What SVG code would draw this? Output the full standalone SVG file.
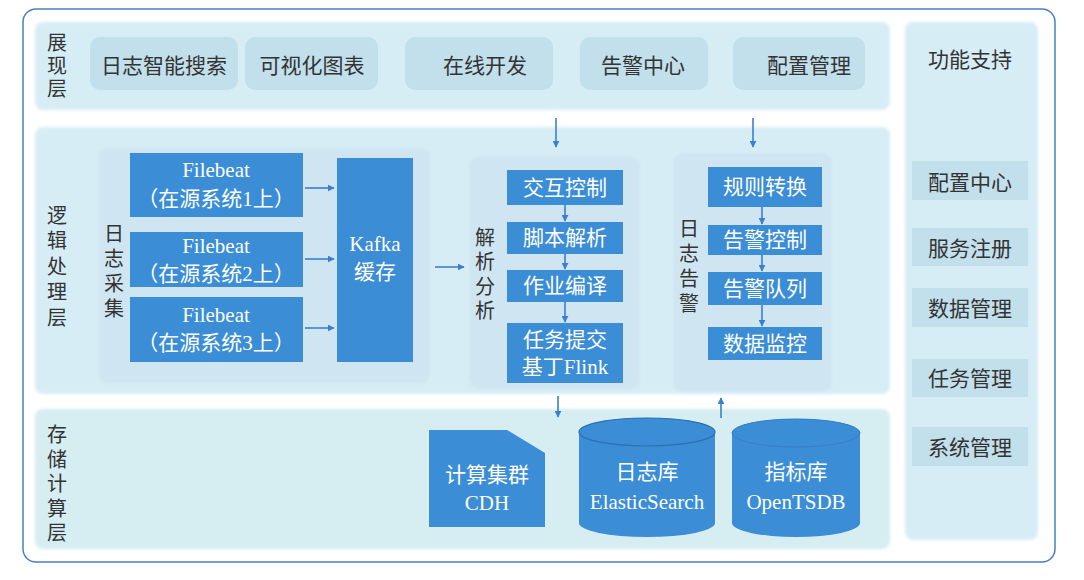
<svg xmlns="http://www.w3.org/2000/svg" width="1084" height="580" viewBox="0 0 1084 580">
<defs>
<style>
.band{fill:#d7edf5;}
.sub{fill:#cfe6f2;}
.pbox{fill:#c2dfec;}
.bbox{fill:#3b8dd6;}
.lbl{font-family:"Noto Sans CJK SC","Liberation Sans",sans-serif;font-size:21px;fill:#333;text-anchor:middle;dominant-baseline:central;}
.vl{font-family:"Noto Sans CJK SC","Liberation Sans",sans-serif;font-size:20px;fill:#333;text-anchor:middle;writing-mode:vertical-rl;text-orientation:upright;}
.wt{font-family:"Liberation Serif","Noto Sans CJK SC",serif;font-size:21px;fill:#ffffff;text-anchor:middle;dominant-baseline:central;}
.conn{stroke:#3b7fd0;stroke-width:1.6;fill:none;marker-end:url(#ah);}
</style>
<marker id="ah" viewBox="0 0 10 10" refX="9" refY="5" markerWidth="7" markerHeight="7" markerUnits="userSpaceOnUse" orient="auto">
<path d="M0,0 L10,5 L0,10 z" fill="#3b7fd0"/>
</marker>
<filter id="soft" x="-5%" y="-5%" width="110%" height="110%"><feGaussianBlur stdDeviation="1.5"/></filter>
</defs>
<rect width="1084" height="580" fill="#ffffff"/>
<rect x="23" y="9" width="1032" height="553" rx="13" fill="#ffffff" stroke="#4a80c2" stroke-width="1.5"/>

<g id="layer-present">
<rect class="band" x="35" y="22" width="855" height="88" rx="8" filter="url(#soft)"/>
<text class="vl" x="57" y="67" letter-spacing="3">展现层</text>
</g>
<g id="n-search"><rect class="pbox" x="90" y="37" width="148" height="53" rx="10"/><text class="lbl" x="164" y="64">日志智能搜索</text></g>
<g id="n-visual"><rect class="pbox" x="245" y="37" width="133" height="53" rx="10"/><text class="lbl" x="312" y="64">可视化图表</text></g>
<g id="n-online"><rect class="pbox" x="405" y="37" width="148" height="53" rx="10"/><text class="lbl" x="485" y="64">在线开发</text></g>
<g id="n-alarm"><rect class="pbox" x="580" y="37" width="128" height="53" rx="10"/><text class="lbl" x="643" y="64">告警中心</text></g>
<g id="n-config"><rect class="pbox" x="733" y="37" width="132" height="53" rx="10"/><text class="lbl" x="809" y="64">配置管理</text></g>

<g id="layer-logic">
<rect class="band" x="35" y="127" width="855" height="267" rx="8" filter="url(#soft)"/>
<text class="vl" x="57" y="269" letter-spacing="5.5">逻辑处理层</text>
</g>
<g id="grp-collect">
<rect class="sub" x="99" y="148" width="331" height="235" rx="8" filter="url(#soft)"/>
<text class="vl" x="114" y="273" letter-spacing="5">日志采集</text>
</g>
<g id="n-fb1"><rect class="bbox" x="130" y="153" width="173" height="64"/><text class="wt" x="216" y="170">Filebeat</text><text class="wt" x="216" y="199" font-size="20">（在源系统1上）</text></g>
<g id="n-fb2"><rect class="bbox" x="130" y="232" width="173" height="55"/><text class="wt" x="216" y="246">Filebeat</text><text class="wt" x="216" y="274" font-size="20">（在源系统2上）</text></g>
<g id="n-fb3"><rect class="bbox" x="130" y="297" width="173" height="65"/><text class="wt" x="216" y="315">Filebeat</text><text class="wt" x="216" y="343" font-size="20">（在源系统3上）</text></g>
<g id="n-kafka"><rect class="bbox" x="337" y="158" width="76" height="204"/><text class="wt" x="375" y="244">Kafka</text><text class="wt" x="375" y="272">缓存</text></g>

<g id="grp-parse">
<rect class="sub" x="469" y="156" width="171" height="233" rx="10" filter="url(#soft)"/>
<text class="vl" x="485" y="276" letter-spacing="4.5">解析分析</text>
</g>
<g id="n-interact"><rect class="bbox" x="507" y="170" width="116" height="35"/><text class="wt" x="565" y="188">交互控制</text></g>
<g id="n-script"><rect class="bbox" x="507" y="222" width="116" height="32"/><text class="wt" x="565" y="238">脚本解析</text></g>
<g id="n-compile"><rect class="bbox" x="507" y="270" width="116" height="32"/><text class="wt" x="565" y="286">作业编译</text></g>
<g id="n-submit"><rect class="bbox" x="507" y="323" width="116" height="60"/><text class="wt" x="565" y="340">任务提交</text><text class="wt" x="565" y="367">基丁Flink</text></g>

<g id="grp-alert">
<rect class="sub" x="673" y="153" width="159" height="239" rx="10" filter="url(#soft)"/>
<text class="vl" x="689" y="268" letter-spacing="5">日志告警</text>
</g>
<g id="n-rule"><rect class="bbox" x="708" y="167" width="114" height="40"/><text class="wt" x="765" y="187">规则转换</text></g>
<g id="n-actrl"><rect class="bbox" x="708" y="225" width="114" height="30"/><text class="wt" x="765" y="240">告警控制</text></g>
<g id="n-aqueue"><rect class="bbox" x="708" y="272" width="114" height="33"/><text class="wt" x="765" y="289">告警队列</text></g>
<g id="n-monitor"><rect class="bbox" x="708" y="327" width="114" height="33"/><text class="wt" x="765" y="344">数据监控</text></g>

<g id="layer-storage">
<rect x="35" y="409" width="855" height="140" rx="8" style="fill:#d6edf2" filter="url(#soft)"/>
<text class="vl" x="57" y="486" letter-spacing="4.5">存储计算层</text>
</g>
<g id="n-cdh"><path class="bbox" d="M429,430 L507,430 L545,453 L545,527 L429,527 Z"/><text class="wt" x="487" y="475">计算集群</text><text class="wt" x="487" y="503">CDH</text></g>
<g id="n-es">
<path class="bbox" d="M579,432 L579,523 A68,14 0 0 0 715,523 L715,432 A68,14 0 0 0 579,432 Z"/>
<ellipse cx="647" cy="432" rx="68" ry="14" fill="#3b8dd6" stroke="#2f6fb0" stroke-width="1.2"/>
<text class="wt" x="647" y="472">日志库</text><text class="wt" x="647" y="502" font-size="22">ElasticSearch</text></g>
<g id="n-tsdb">
<path class="bbox" d="M732,433 L732,523 A64,14 0 0 0 860,523 L860,433 A64,14 0 0 0 732,433 Z"/>
<ellipse cx="796" cy="433" rx="64" ry="14" fill="#3b8dd6" stroke="#3580c8" stroke-width="1"/>
<text class="wt" x="796" y="472">指标库</text><text class="wt" x="796" y="502" font-size="22">OpenTSDB</text></g>

<g id="panel-support">
<rect class="band" x="905" y="22" width="133" height="518" rx="8" filter="url(#soft)"/>
<text class="lbl" x="970" y="58">功能支持</text>
</g>
<g id="n-cfgcenter"><rect class="pbox" x="912" y="161" width="116" height="39"/><text class="lbl" x="970" y="181">配置中心</text></g>
<g id="n-svcreg"><rect class="pbox" x="912" y="228" width="116" height="38"/><text class="lbl" x="970" y="247">服务注册</text></g>
<g id="n-datamgr"><rect class="pbox" x="912" y="288" width="116" height="39"/><text class="lbl" x="970" y="307">数据管理</text></g>
<g id="n-taskmgr"><rect class="pbox" x="912" y="359" width="116" height="38"/><text class="lbl" x="970" y="377">任务管理</text></g>
<g id="n-sysmgr"><rect class="pbox" x="912" y="427" width="116" height="39"/><text class="lbl" x="970" y="446">系统管理</text></g>

<g id="connectors">
<line class="conn" x1="305" y1="188" x2="334" y2="188"/>
<line class="conn" x1="305" y1="259" x2="334" y2="259"/>
<line class="conn" x1="305" y1="328" x2="334" y2="328"/>
<line class="conn" x1="435" y1="267" x2="464" y2="267"/>
<line class="conn" x1="556" y1="118" x2="556" y2="147"/>
<line class="conn" x1="753" y1="118" x2="753" y2="147"/>
<line class="conn" x1="565" y1="205" x2="565" y2="221"/>
<line class="conn" x1="565" y1="254" x2="565" y2="269"/>
<line class="conn" x1="565" y1="302" x2="565" y2="322"/>
<line class="conn" x1="762" y1="207" x2="762" y2="224"/>
<line class="conn" x1="762" y1="255" x2="762" y2="271"/>
<line class="conn" x1="762" y1="305" x2="762" y2="326"/>
<line class="conn" x1="558" y1="396" x2="558" y2="417"/>
<line class="conn" x1="721" y1="418" x2="721" y2="398"/>
</g>
</svg>
